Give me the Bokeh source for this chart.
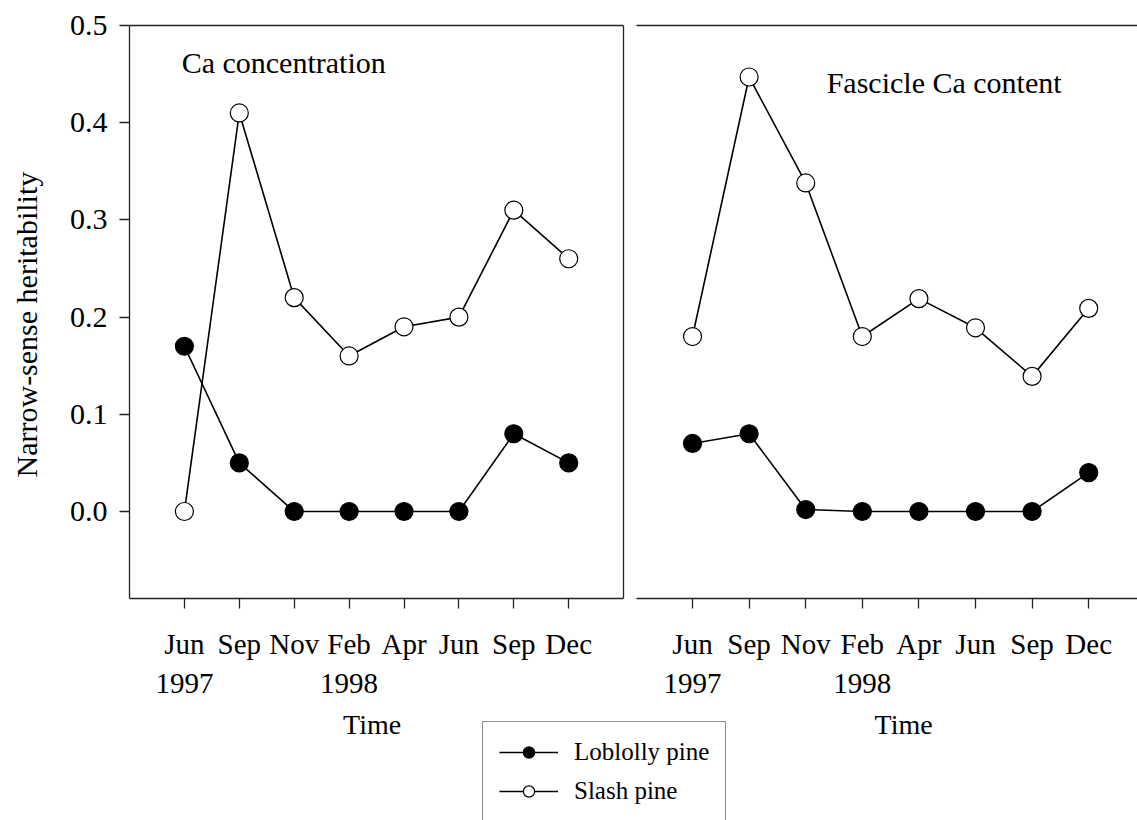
from bokeh.plotting import figure
from bokeh.models import (Range1d, LinearAxis, FixedTicker, Label, Title,
                          Legend, LegendItem, NumeralTickFormatter)
from bokeh.embed import file_html
from bokeh.resources import INLINE

# ---- data ----
months = [1, 2, 3, 4, 5, 6, 7, 8]
month_labels = ["Jun\n1997", "Sep", "Nov", "Feb\n1998", "Apr", "Jun", "Sep", "Dec"]
y_ticks = [0.0, 0.1, 0.2, 0.3, 0.4, 0.5]
conc_loblolly = [0.17, 0.05, 0.0, 0.0, 0.0, 0.0, 0.08, 0.05]
conc_slash = [0.0, 0.41, 0.22, 0.16, 0.19, 0.20, 0.31, 0.26]
content_loblolly = [0.07, 0.08, 0.002, 0.0, 0.0, 0.0, 0.0, 0.04]
content_slash = [0.18, 0.447, 0.338, 0.18, 0.219, 0.189, 0.139, 0.209]

FONT = "Liberation Serif"
PANEL_MIN, PANEL_MAX = -0.0895, 0.5      # extent of each panel's box
VIEW_MIN, VIEW_MAX = -0.3179, 0.5257     # whole drawing area (frame)
LINE_COLOR = "#222222"

p = figure(width=1137, height=820, output_backend="svg", toolbar_location=None,
           x_range=Range1d(0, 18.36), y_range=Range1d(VIEW_MIN, VIEW_MAX),
           x_axis_location=None, y_axis_location="left",
           min_border_left=129, min_border_right=0, min_border_top=0,
           min_border_bottom=0)
p.extra_x_ranges = {"R": Range1d(-8.947, 8.862)}
p.grid.visible = False
p.outline_line_color = None
p.background_fill_color = "white"
p.border_fill_color = "white"

# y axis
ya = p.yaxis[0]
ya.bounds = (PANEL_MIN, PANEL_MAX)
ya.ticker = FixedTicker(ticks=y_ticks)
ya.formatter = NumeralTickFormatter(format="0.0")
ya.major_label_text_font = FONT
ya.major_label_text_font_size = "30px"
ya.major_label_text_color = "black"
ya.major_label_standoff = 12
ya.major_tick_out = 10
ya.major_tick_in = 0
ya.minor_tick_out = 0
ya.minor_tick_in = 0
ya.axis_line_color = LINE_COLOR
ya.axis_line_width = 1.3
ya.major_tick_line_width = 1.3
ya.major_tick_line_color = LINE_COLOR
# spacer so the rotated title below sits further left
ya.axis_label = "\u00a0"
ya.axis_label_text_font_size = "1px"
ya.axis_label_standoff = 16

# y axis title, placed along the panels' height rather than the whole frame
p.add_layout(Title(text="Narrow-sense heritability", align="left", offset=343,
                   text_font=FONT, text_font_size="30px", text_font_style="normal",
                   text_color="black", standoff=8), "left")

overrides = {m: lab for m, lab in zip(months, month_labels)}

def bottom_axis(range_name, bounds):
    ax = LinearAxis(x_range_name=range_name, bounds=bounds,
                    ticker=FixedTicker(ticks=months),
                    major_label_overrides=overrides,
                    fixed_location=PANEL_MIN)
    ax.major_label_text_font = FONT
    ax.major_label_text_font_size = "29px"
    ax.major_label_text_color = "black"
    ax.major_label_standoff = 20
    ax.major_tick_out = 10
    ax.major_tick_in = 0
    ax.minor_tick_out = 0
    ax.minor_tick_in = 0
    ax.axis_line_color = LINE_COLOR
    ax.axis_line_width = 1.3
    ax.major_tick_line_width = 1.3
    ax.major_tick_line_color = LINE_COLOR
    p.add_layout(ax, "below")

def plain_line(side, loc, bounds, range_name="default"):
    ax = LinearAxis(x_range_name=range_name, bounds=bounds,
                    ticker=FixedTicker(ticks=[]), fixed_location=loc)
    ax.major_tick_out = 0
    ax.major_tick_in = 0
    ax.minor_tick_out = 0
    ax.minor_tick_in = 0
    ax.major_label_text_font_size = "0px"
    ax.axis_line_color = LINE_COLOR
    ax.axis_line_width = 1.3
    p.add_layout(ax, side)

bottom_axis("default", (0, 9))
bottom_axis("R", (0.01, 8.862))
plain_line("above", PANEL_MAX, (0, 9))
plain_line("above", PANEL_MAX, (0.01, 8.862), "R")
plain_line("right", 9, (PANEL_MIN, PANEL_MAX))

# series
items_lob = []
items_sla = []
for rng, lob, sla in (("default", conc_loblolly, conc_slash), ("R", content_loblolly, content_slash)):
    l1 = p.line(months, lob, line_color="black", line_width=1.6, x_range_name=rng)
    l2 = p.line(months, sla, line_color="black", line_width=1.6, x_range_name=rng)
    s1 = p.scatter(months, lob, marker="circle", size=18, fill_color="black",
                   line_color="black", line_width=1.2, x_range_name=rng)
    s2 = p.scatter(months, sla, marker="circle", size=18, fill_color="white",
                   line_color="black", line_width=1.2, x_range_name=rng)
    if rng == "default":
        items_lob = [l1, s1]
        items_sla = [l2, s2]

# panel titles
p.add_layout(Label(x=0.95, y=0.4620, text="Ca concentration", text_font=FONT,
                   text_font_size="30px", text_baseline="middle", text_align="left",
                   text_color="black"))
p.add_layout(Label(x=3.37, y=0.4414, text="Fascicle Ca content", text_font=FONT,
                   text_font_size="30px", text_baseline="middle", text_align="left",
                   text_color="black", x_range_name="R"))

# x axis titles
p.add_layout(Label(x=4.42, y=-0.2191, text="Time", text_font=FONT, text_font_size="28px",
                   text_baseline="middle", text_align="center", text_color="black"))
p.add_layout(Label(x=4.73, y=-0.2191, text="Time", text_font=FONT, text_font_size="28px",
                   text_baseline="middle", text_align="center", text_color="black",
                   x_range_name="R"))

legend = Legend(items=[LegendItem(label="Loblolly pine", renderers=items_lob),
                       LegendItem(label="Slash pine", renderers=items_sla)],
                location=(353, -2), padding=16, spacing=11,
                glyph_width=59, glyph_height=28, label_height=28, label_standoff=16,
                label_text_font=FONT, label_text_font_size="25px", label_text_color="black",
                border_line_color=LINE_COLOR, border_line_width=1.2,
                background_fill_color="white", background_fill_alpha=1.0, margin=0)
p.add_layout(legend, "center")

open("out.html", "w").write(file_html(p, INLINE))
